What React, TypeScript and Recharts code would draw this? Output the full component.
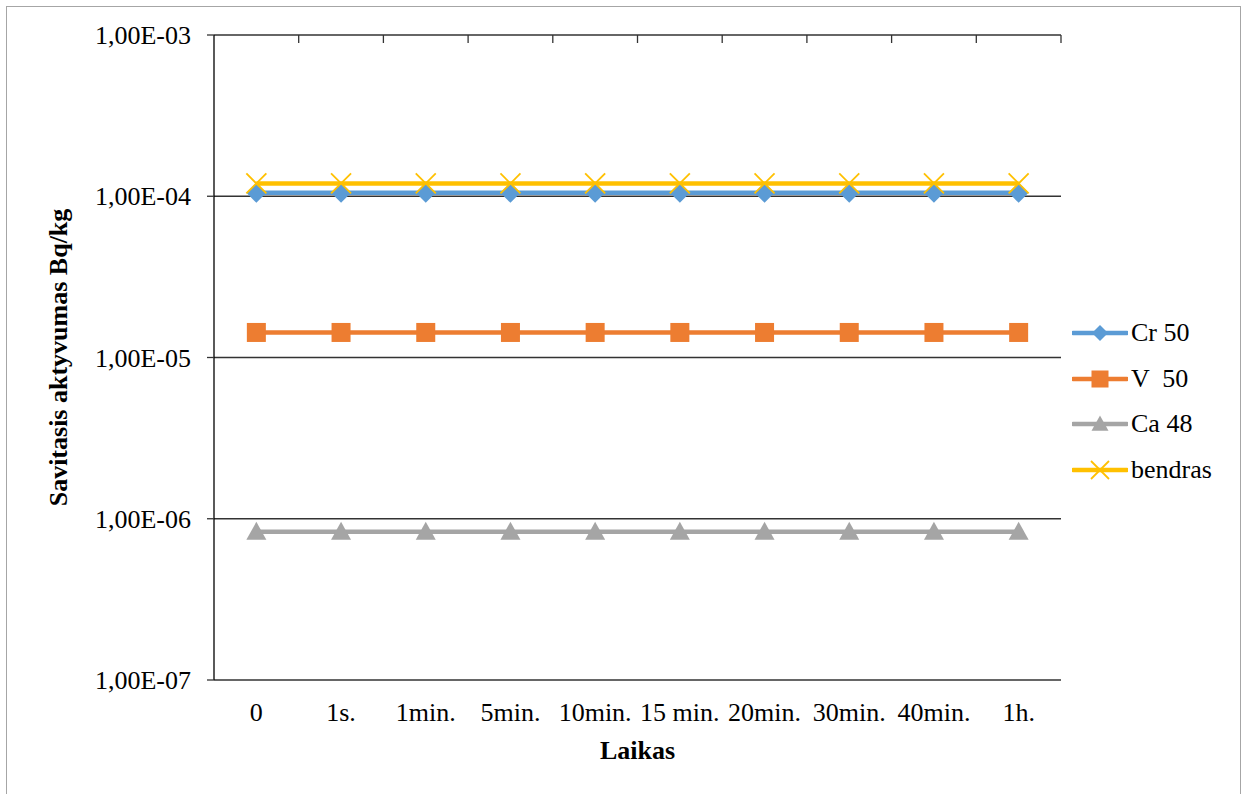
import React from 'react';
import {
	CartesianGrid,
	Legend,
	Line,
	LineChart,
	XAxis,
	YAxis
} from 'recharts';

const categories = ['0', '1s.', '1min.', '5min.', '10min.', '15 min.', '20min.', '30min.', '40min.', '1h.'];
const cr50 = [1.05e-4, 1.05e-4, 1.05e-4, 1.05e-4, 1.05e-4, 1.05e-4, 1.05e-4, 1.05e-4, 1.05e-4, 1.05e-4];
const v50 = [1.43e-5, 1.43e-5, 1.43e-5, 1.43e-5, 1.43e-5, 1.43e-5, 1.43e-5, 1.43e-5, 1.43e-5, 1.43e-5];
const ca48 = [8.3e-7, 8.3e-7, 8.3e-7, 8.3e-7, 8.3e-7, 8.3e-7, 8.3e-7, 8.3e-7, 8.3e-7, 8.3e-7];
const bendras = [1.2e-4, 1.2e-4, 1.2e-4, 1.2e-4, 1.2e-4, 1.2e-4, 1.2e-4, 1.2e-4, 1.2e-4, 1.2e-4];
const yTicks = [1e-7, 1e-6, 1e-5, 1e-4, 1e-3];

const data = categories.map((t, i) => ({
	t,
	cr: cr50[i],
	v: v50[i],
	ca: ca48[i],
	sum: bendras[i]
}));

const FONT = '"Liberation Serif", "Times New Roman", serif';

const COLORS = {
	cr: '#5B9BD5',
	v: '#ED7D31',
	ca: '#A5A5A5',
	sum: '#FFC000'
};

// 1e-4 -> "1,00E-04"
const fmtExp = (v: number) => {
	const [m, e] = v.toExponential(2).split('e');
	const n = parseInt(e, 10);
	const sign = n < 0 ? '-' : '+';
	return m.replace('.', ',') + 'E' + sign + String(Math.abs(n)).padStart(2, '0');
};

type MarkerKind = 'diamond' | 'square' | 'triangle' | 'cross';

const Marker = ({ kind, cx, cy, s, color }: { kind: MarkerKind; cx: number; cy: number; s: number; color: string }) => {
	if (kind === 'diamond') {
		return <path d={`M${cx},${cy - s} L${cx + s},${cy} L${cx},${cy + s} L${cx - s},${cy} Z`} fill={color} />;
	}
	if (kind === 'square') {
		return <rect x={cx - s} y={cy - s} width={s * 2} height={s * 2} fill={color} />;
	}
	if (kind === 'triangle') {
		return <path d={`M${cx},${cy - s} L${cx + s},${cy + s * 0.8} L${cx - s},${cy + s * 0.8} Z`} fill={color} />;
	}
	return (
		<g stroke={color} strokeWidth={1.8}>
			<line x1={cx - s} y1={cy - s} x2={cx + s} y2={cy + s} />
			<line x1={cx - s} y1={cy + s} x2={cx + s} y2={cy - s} />
		</g>
	);
};

const dotFor = (kind: MarkerKind, color: string, s: number) => (props: any) => (
	<Marker key={`${kind}-${props.index}`} kind={kind} cx={props.cx} cy={props.cy} s={s} color={color} />
);

// small tick mark on the right edge of each category band, pointing into the plot
const BoundaryTick = (props: any) => {
	const half = props.payload?.offset ?? 0;
	const x = props.x + half;
	return <line x1={x} y1={35} x2={x} y2={43} stroke="#333" strokeWidth={1.3} />;
};

const legendItems: { name: string; kind: MarkerKind; color: string; s: number }[] = [
	{ name: 'Cr 50', kind: 'diamond', color: COLORS.cr, s: 8 },
	{ name: 'V  50', kind: 'square', color: COLORS.v, s: 8.5 },
	{ name: 'Ca 48', kind: 'triangle', color: COLORS.ca, s: 8.5 },
	{ name: 'bendras', kind: 'cross', color: COLORS.sum, s: 9 }
];

const renderLegend = () => (
	<div style={{ fontFamily: FONT, fontSize: 26, color: '#000', textAlign: 'left' }}>
		{legendItems.map((it) => (
			<div key={it.name} style={{ display: 'flex', alignItems: 'center', height: 45.7 }}>
				<svg width={56} height={24} style={{ display: 'block' }}>
					<line x1={1} y1={12} x2={55} y2={12} stroke={it.color} strokeWidth={4.5} strokeLinecap="round" />
					<Marker kind={it.kind} cx={28} cy={12} s={it.s} color={it.color} />
				</svg>
				<span style={{ marginLeft: 3, whiteSpace: 'pre' }}>{it.name}</span>
			</div>
		))}
	</div>
);

const YTitle = (props: any) => {
	const vb = props.viewBox || {};
	const x = 67;
	const y = vb.y + vb.height / 2;
	return (
		<text
			x={x}
			y={y}
			transform={`rotate(-90, ${x}, ${y})`}
			textAnchor="middle"
			fontFamily={FONT}
			fontSize={26}
			fontWeight="bold"
			fill="#000"
		>
			Savitasis aktyvumas Bq/kg
		</text>
	);
};

const XTitle = (props: any) => {
	const vb = props.viewBox || {};
	return (
		<text
			x={vb.x + vb.width / 2}
			y={759}
			textAnchor="middle"
			fontFamily={FONT}
			fontSize={26}
			fontWeight="bold"
			fill="#000"
		>
			Laikas
		</text>
	);
};

const App: React.FC = () => {
	return (
		<div style={{ position: 'absolute', left: 0, top: 0, width: 1246, height: 794, background: '#fff' }}>
			<div
				style={{
					position: 'absolute',
					left: 6,
					top: 6,
					width: 1235,
					height: 788,
					borderTop: '1.5px solid #a6a6a6',
					borderLeft: '1.5px solid #a6a6a6',
					borderRight: '1.5px solid #a6a6a6',
					boxSizing: 'border-box'
				}}
			/>
			<LineChart
				width={1246}
				height={794}
				data={data}
				margin={{ top: 35, right: 185, left: 44, bottom: 24 }}
				style={{ position: 'absolute', left: 0, top: 0 }}
			>
				<CartesianGrid horizontal vertical={false} stroke="#333" strokeWidth={1.3} />
				<XAxis
					dataKey="t"
					xAxisId="cat"
					scale="band"
					height={90}
					axisLine={false}
					tickLine={false}
					tickSize={0}
					tickMargin={23}
					interval={0}
					tick={{ fontFamily: FONT, fontSize: 26, fill: '#000' }}
					label={<XTitle />}
				/>
				<XAxis
					dataKey="t"
					xAxisId="top"
					scale="band"
					orientation="top"
					mirror
					height={10}
					interval={0}
					axisLine={false}
					tickLine={false}
					tickSize={0}
					tickMargin={0}
					tick={<BoundaryTick />}
				/>
				<YAxis
					scale="log"
					domain={[1e-7, 1e-3]}
					ticks={yTicks}
					allowDataOverflow
					width={170}
					tickSize={7}
					tickMargin={16}
					axisLine={{ stroke: '#000', strokeWidth: 1.3 }}
					tickLine={{ stroke: '#333', strokeWidth: 1.3 }}
					tickFormatter={fmtExp}
					tick={{ fontFamily: FONT, fontSize: 26, fill: '#000' }}
					label={<YTitle />}
				/>
				<Legend
					layout="vertical"
					align="center"
					verticalAlign="middle"
					content={renderLegend}
					wrapperStyle={{ left: 1072, top: 310, width: 170, right: 'auto', bottom: 'auto' }}
				/>
				<Line
					xAxisId="cat"
					dataKey="cr"
					name="Cr 50"
					stroke={COLORS.cr}
					strokeWidth={4.5}
					dot={dotFor('diamond', COLORS.cr, 10)}
					isAnimationActive={false}
				/>
				<Line
					xAxisId="cat"
					dataKey="v"
					name="V  50"
					stroke={COLORS.v}
					strokeWidth={4.5}
					dot={dotFor('square', COLORS.v, 9.5)}
					isAnimationActive={false}
				/>
				<Line
					xAxisId="cat"
					dataKey="ca"
					name="Ca 48"
					stroke={COLORS.ca}
					strokeWidth={4.5}
					dot={dotFor('triangle', COLORS.ca, 10)}
					isAnimationActive={false}
				/>
				<Line
					xAxisId="cat"
					dataKey="sum"
					name="bendras"
					stroke={COLORS.sum}
					strokeWidth={4.5}
					dot={dotFor('cross', COLORS.sum, 10)}
					isAnimationActive={false}
				/>
			</LineChart>
		</div>
	);
};

export default App;
